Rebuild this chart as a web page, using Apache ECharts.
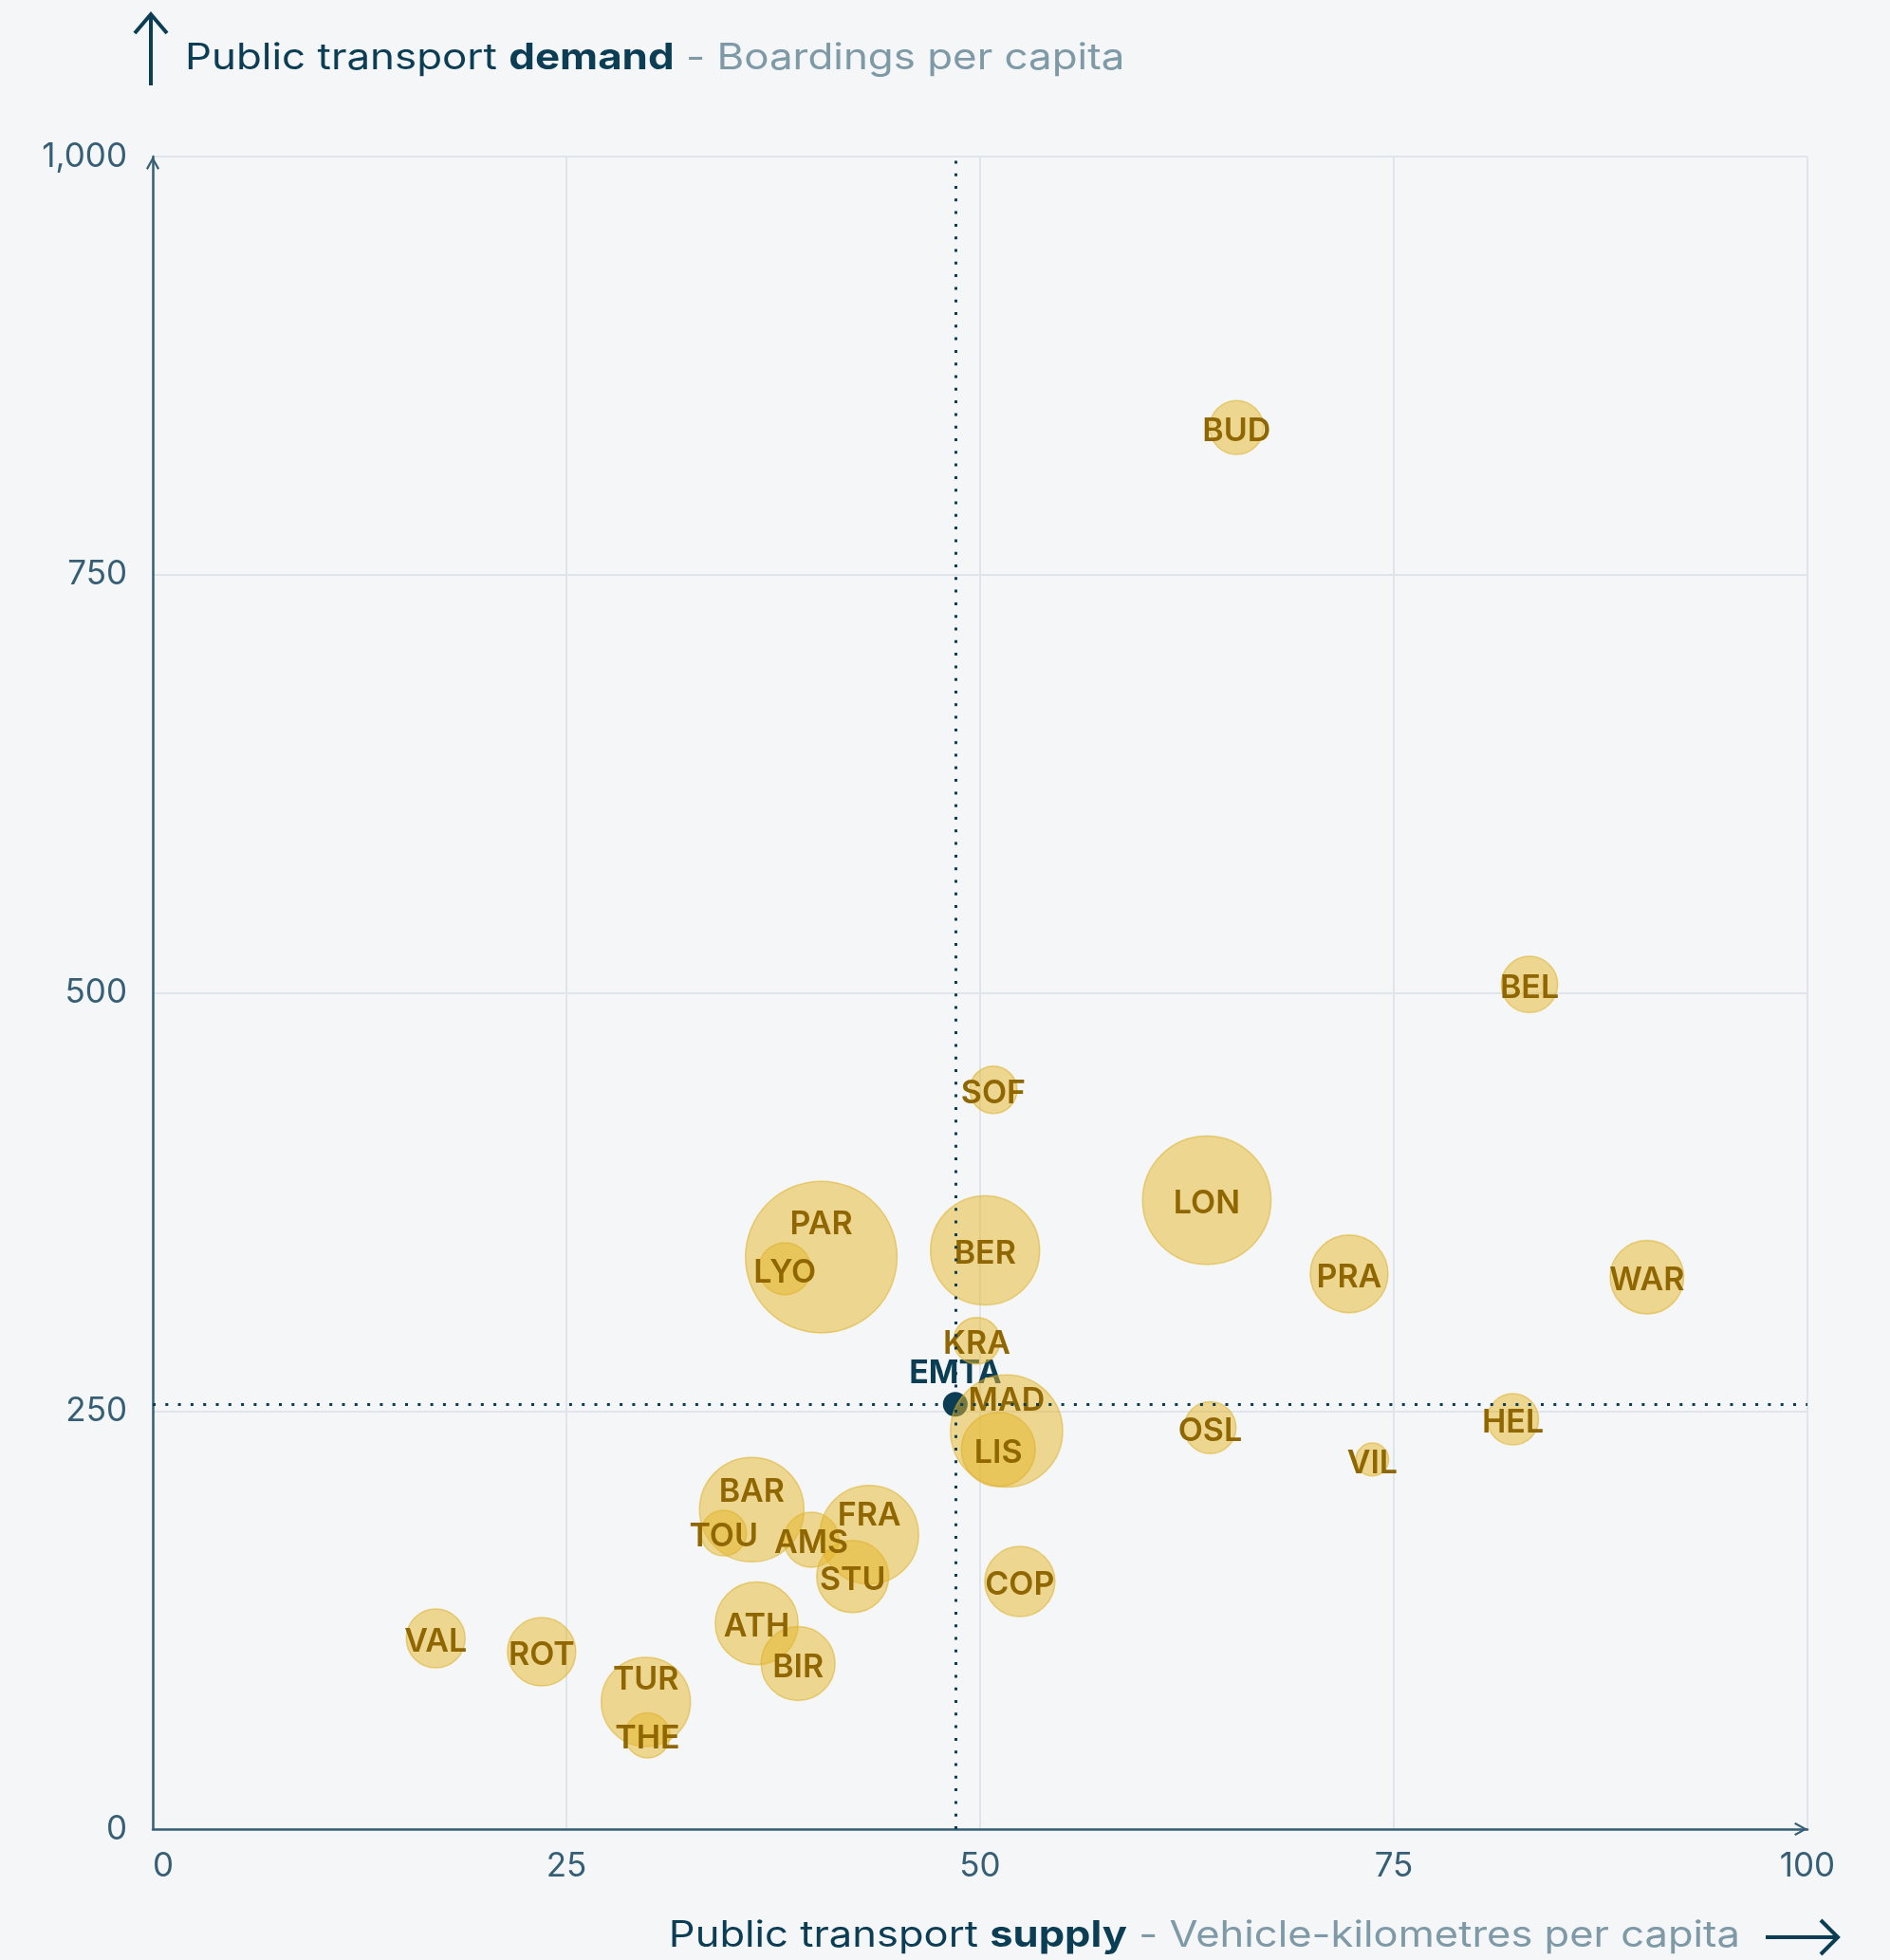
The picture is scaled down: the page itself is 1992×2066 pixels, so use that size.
<!DOCTYPE html>
<html>
<head>
<meta charset="utf-8">
<script src="https://cdn.jsdelivr.net/npm/echarts@6/dist/echarts.min.js"></script>
<style>
  html, body { margin: 0; padding: 0; background: #f4f6f8; }
  #chart { width: 1992px; height: 2066px; }
</style>
</head>
<body>
<div id="chart"></div>
<script>
// ---- Data ----
const cities     = ['BUD','BEL','SOF','LON','PRA','WAR','PAR','LYO','BER','KRA','MAD','LIS','OSL','VIL','HEL','BAR','TOU','AMS','FRA','STU','ATH','BIR','COP','VAL','ROT','TUR','THE'];
const supply     = [65.5, 83.2, 50.8, 63.7, 72.3, 90.3, 40.4, 38.2, 50.3, 49.8, 51.6, 51.1, 63.9, 73.7, 82.2, 36.2, 34.5, 39.8, 43.3, 42.3, 36.5, 39.0, 52.4, 17.1, 23.5, 29.8, 29.9];
const demand     = [838, 505, 442, 376, 332, 330, 342, 335, 346, 292, 238, 227, 240, 221, 245, 191, 177, 173, 176, 151, 123, 99, 148, 114, 106, 76, 56];
const population = [1.59, 1.74, 1.23, 9.05, 3.32, 2.97, 12.6, 1.48, 6.53, 1.19, 6.9, 3.0, 1.47, 0.59, 1.44, 5.98, 1.14, 1.66, 5.34, 2.85, 3.77, 3.0, 2.70, 1.90, 2.56, 4.36, 1.11];
const emtaName   = 'EMTA';
const emtaSupply = 48.5;
const emtaDemand = 254;
const xTicks = [0, 25, 50, 75, 100];
const yTicks = [0, 250, 500, 750, 1000];

// ---- Style config (not data) ----
const labelShift = { PAR: -38, MAD: -36, BAR: -22, FRA: -24, TUR: -27 };
const FONT = 'Inter';
const NAVY = '#0b3d55';
const AXIS = '#365f75';
const GREY = '#7f9aa7';
const LABEL = '#8f6600';

const bubbleData = cities.map((c, i) => ({
  name: c,
  value: [supply[i], demand[i], population[i]],
  label: { offset: [0, (labelShift[c] || 0) + 4] }
}));

const chart = echarts.init(document.getElementById('chart'));
const chevronUp = 'path://M0,9 L5,0 L10,9 L8.7,10 L5,3.1 L1.3,10 Z';

const titleRich = {
  a: { fontSize: 38, fontFamily: FONT, fill: NAVY, fontWeight: 400 },
  b: { fontSize: 38, fontFamily: FONT, fill: NAVY, fontWeight: 'bold' },
  c: { fontSize: 38, fontFamily: FONT, fill: GREY, fontWeight: 400 }
};

const option = {
  backgroundColor: '#f4f6f8',
  animation: false,
  textStyle: { fontFamily: FONT },
  grid: { left: 161, right: 87, top: 165, bottom: 138, containLabel: false },
  xAxis: {
    type: 'value', min: xTicks[0], max: xTicks[xTicks.length - 1], interval: 25,
    axisLine: { show: true, onZero: false, lineStyle: { color: AXIS, width: 2.5 },
      symbol: ['none', chevronUp], symbolSize: [24, 14], symbolOffset: [0, -7] },
    axisTick: { show: false },
    axisLabel: { color: AXIS, fontSize: 35, fontFamily: FONT, margin: 22, alignMinLabel: 'left' },
    splitLine: { show: true, lineStyle: { color: '#dfe5ea', width: 2 } }
  },
  yAxis: {
    type: 'value', min: yTicks[0], max: yTicks[yTicks.length - 1], interval: 250,
    axisLine: { show: true, onZero: false, lineStyle: { color: AXIS, width: 2.5 },
      symbol: ['none', chevronUp], symbolSize: [24, 14], symbolOffset: [0, -7] },
    axisTick: { show: false },
    axisLabel: { color: AXIS, fontSize: 35, fontFamily: FONT, margin: 27,
      formatter: v => v.toLocaleString('en-US') },
    splitLine: { show: true, lineStyle: { color: '#dfe5ea', width: 2 } }
  },
  series: [
    {
      name: emtaName, type: 'scatter', z: 1,
      data: [{ name: emtaName, value: [emtaSupply, emtaDemand] }],
      symbolSize: 26,
      itemStyle: { color: NAVY, opacity: 1 },
      label: { show: true, position: 'top', distance: 2, formatter: '{b}',
        color: NAVY, fontSize: 34, fontWeight: 'bold', fontFamily: FONT },
      markLine: {
        silent: true, symbol: ['none', 'none'], label: { show: false },
        lineStyle: { color: NAVY, width: 3, type: [3, 10.3], opacity: 1 },
        emphasis: { disabled: true },
        data: [{ xAxis: emtaSupply }, { yAxis: emtaDemand }]
      }
    },
    {
      name: 'cities', type: 'scatter', z: 2,
      data: bubbleData,
      symbolSize: v => Math.sqrt(v[2]) * 45,
      itemStyle: { color: 'rgba(228,181,40,0.5)', borderColor: 'rgba(222,176,40,0.55)', borderWidth: 1.5, opacity: 1 },
      label: { show: true, position: 'inside', formatter: '{b}', color: LABEL,
        fontSize: 34, fontWeight: 600, fontFamily: FONT },
      emphasis: { disabled: true }
    }
  ],
  graphic: [
    { type: 'line', shape: { x1: 159, y1: 16, x2: 159, y2: 90 }, style: { stroke: NAVY, lineWidth: 4 } },
    { type: 'polyline', shape: { points: [[142, 35], [159, 15], [176, 35]] }, style: { stroke: NAVY, lineWidth: 4, fill: null } },
    { type: 'text', x: 195, y: 62, scaleX: 1.155, style: {
        text: '{a|Public transport }{b|demand}{c| - Boardings per capita}',
        verticalAlign: 'middle', align: 'left', rich: titleRich } },
    { type: 'text', x: 1834, y: 2041, scaleX: 1.145, style: {
        text: '{a|Public transport }{b|supply}{c| - Vehicle-kilometres per capita}',
        verticalAlign: 'middle', align: 'right', rich: titleRich } },
    { type: 'line', shape: { x1: 1861, y1: 2042, x2: 1936, y2: 2042 }, style: { stroke: NAVY, lineWidth: 4 } },
    { type: 'polyline', shape: { points: [[1919, 2024], [1937, 2042], [1919, 2060]] }, style: { stroke: NAVY, lineWidth: 4, fill: null } }
  ]
};
chart.setOption(option);
</script>
</body>
</html>
